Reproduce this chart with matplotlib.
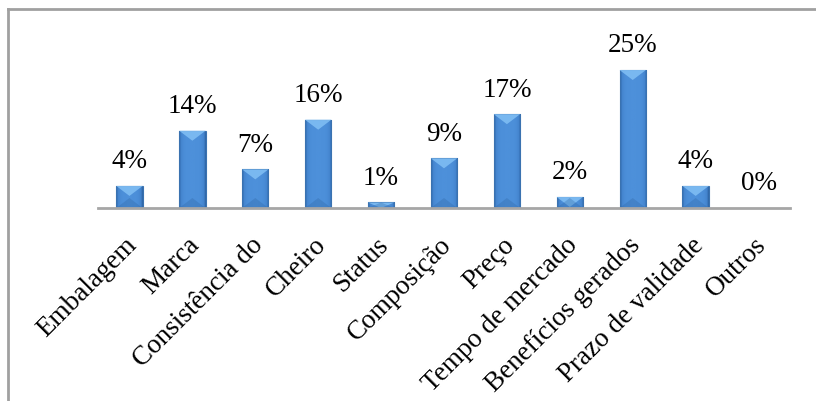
import matplotlib.pyplot as plt
import matplotlib.transforms as mtransforms
import numpy as np
from matplotlib.patches import Polygon, Rectangle
from matplotlib.lines import Line2D

categories = ["Embalagem", "Marca", "Consistência do", "Cheiro", "Status",
              "Composição", "Preço", "Tempo de mercado", "Benefícios gerados",
              "Prazo de validade", "Outros"]
values = [4, 14, 7, 16, 1, 9, 17, 2, 25, 4, 0]
labels = ["4%", "14%", "7%", "16%", "1%", "9%", "17%", "2%", "25%", "4%", "0%"]

plt.rcParams['font.family'] = 'serif'
plt.rcParams['font.serif'] = ['Liberation Serif', 'Times New Roman', 'DejaVu Serif']

fig = plt.figure(figsize=(8.16, 4.02), dpi=100)
ax = fig.add_axes([98 / 816, 1 - 209 / 402, 692 / 816, 180 / 402])

x = np.arange(len(categories))
width = 0.42
ax.set_xlim(-0.5, len(categories) - 0.5)
ax.set_ylim(0, 180 / 5.52)

# bevel depth in data units (~10 px)
bevel = 10 / 5.52
grad = np.linspace(0, 1, 64)
grad = 1 - (2 * grad - 1) ** 4
grad = np.tile(grad, (2, 1))
cmap = plt.matplotlib.colors.LinearSegmentedColormap.from_list(
    "bar", ["#2d64a3", "#4485cf", "#4d90da"])

for xi, v in zip(x, values):
    if v <= 0:
        continue
    left = xi - width / 2
    right = xi + width / 2
    im = ax.imshow(grad, extent=[left, right, 0, v], aspect='auto',
                   cmap=cmap, vmin=0, vmax=1, zorder=2)
    rect = Rectangle((left, 0), width, v, facecolor='none',
                     edgecolor='#3a72b0', linewidth=0.8, zorder=3)
    ax.add_patch(rect)
    im.set_clip_path(rect)
    d = min(bevel, v)
    top = Polygon([[left, v], [right, v], [xi, v - d]], closed=True,
                  facecolor='#7fbdf3', edgecolor='none', alpha=0.9, zorder=3)
    ax.add_patch(top)
    bot = Polygon([[left, 0], [right, 0], [xi, min(bevel, v)]], closed=True,
                  facecolor='#2c62a0', edgecolor='none', alpha=0.3, zorder=3)
    ax.add_patch(bot)

for xi, v, lab in zip(x, values, labels):
    ax.annotate(lab, (xi, v), xytext=(0, 9), textcoords='offset points',
                ha='center', va='bottom', fontsize=19.5)

for s in ['top', 'right', 'left']:
    ax.spines[s].set_visible(False)
ax.spines['bottom'].set_color('#a6a6a6')
ax.spines['bottom'].set_linewidth(2)
ax.spines['bottom'].set_zorder(4)
ax.set_yticks([])
ax.set_xticks(x)
ax.set_xticklabels(categories, rotation=45, ha='right', rotation_mode='anchor',
                   fontsize=19.5)
ax.tick_params(axis='x', length=0, pad=17)
shift = mtransforms.ScaledTranslation(-5 / 100, 0, fig.dpi_scale_trans)
for t in ax.get_xticklabels():
    t.set_transform(t.get_transform() + shift)

# outer frame (top and left only visible)
fig.add_artist(Line2D([8 / 816, 1], [1 - 10 / 402, 1 - 10 / 402],
                      color='#a0a0a0', linewidth=2, transform=fig.transFigure))
fig.add_artist(Line2D([8 / 816, 8 / 816], [0, 1 - 10 / 402],
                      color='#a0a0a0', linewidth=2, transform=fig.transFigure))

fig.savefig("out.png", dpi=100)
